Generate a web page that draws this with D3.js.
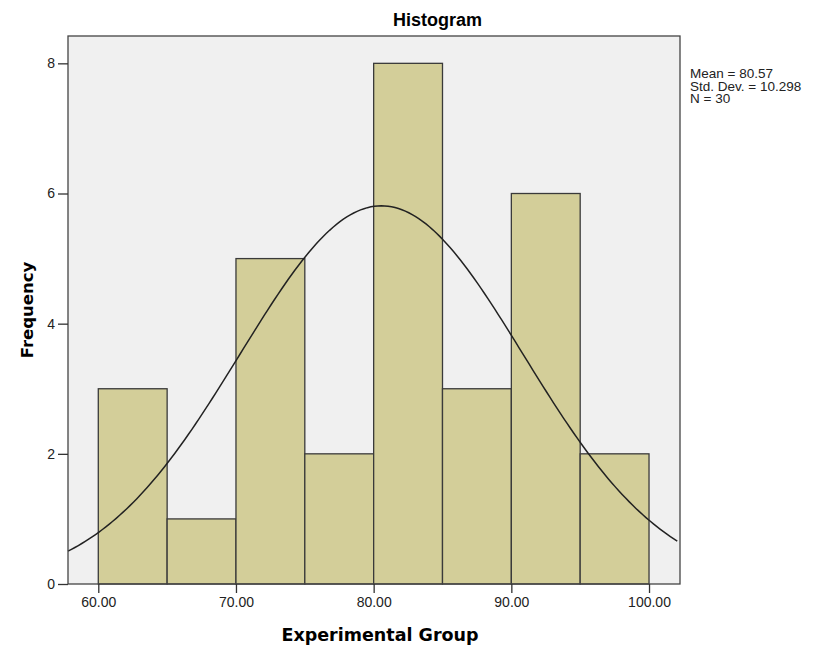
<!DOCTYPE html>
<html>
<head>
<meta charset="utf-8">
<script src="https://cdn.jsdelivr.net/npm/d3@7"></script>
<style>
  body { margin: 0; background: #fff; }
  svg { display: block; }
</style>
</head>
<body>
<svg width="825" height="649"></svg>
<script>
// histogram bins (lower edges) and counts
const binStarts = [60, 65, 70, 75, 80, 85, 90, 95];
const binWidth = 5;
const counts = [3, 1, 5, 2, 8, 3, 6, 2];
const xTicks = [60, 70, 80, 90, 100];
const yTicks = [0, 2, 4, 6, 8];
const mean = 80.57;
const stdDev = 10.298;
const n = 30;

const plotLeft = 68, plotRight = 680, plotTop = 36, plotBottom = 584;

const svg = d3.select('svg');

const x = d3.scaleLinear().domain([57.8, 102.25]).range([plotLeft, plotRight]);
const y = d3.scaleLinear().domain([0, 8.42]).range([plotBottom, plotTop]);

svg.append('rect')
  .attr('x', plotLeft).attr('y', plotTop)
  .attr('width', plotRight - plotLeft).attr('height', plotBottom - plotTop)
  .style('fill', '#f0f0f0');

svg.append('g')
  .selectAll('rect')
  .data(binStarts)
  .enter()
  .append('rect')
    .attr('x', d => x(d))
    .attr('y', (d, i) => y(counts[i]))
    .attr('width', d => x(d + binWidth) - x(d))
    .attr('height', (d, i) => y(0) - y(counts[i]))
    .style('fill', '#d3ce99')
    .style('stroke', '#3a3a3a')
    .style('stroke-width', 1.3);

// normal curve from the shown mean / std. dev.
const dens = v => n * binWidth * Math.exp(-0.5 * ((v - mean) / stdDev) ** 2) / (stdDev * Math.sqrt(2 * Math.PI));
const curveX = d3.range(x.domain()[0], x.domain()[1] + 0.001, 0.25);
svg.append('path')
  .datum(curveX)
  .attr('d', d3.line().x(d => x(d)).y(d => y(dens(d))))
  .style('fill', 'none')
  .style('stroke', '#222')
  .style('stroke-width', 1.5);

// frame
svg.append('rect')
  .attr('x', plotLeft).attr('y', plotTop)
  .attr('width', plotRight - plotLeft).attr('height', plotBottom - plotTop)
  .style('fill', 'none')
  .style('stroke', '#444')
  .style('stroke-width', 1.3);

const yAxis = d3.axisLeft(y).tickValues(yTicks).tickSize(10).tickSizeOuter(0).tickPadding(3);
const gy = svg.append('g').attr('transform', `translate(${plotLeft},0)`).call(yAxis);
const xAxis = d3.axisBottom(x).tickValues(xTicks).tickSize(9).tickSizeOuter(0).tickPadding(4)
  .tickFormat(d3.format('.2f'));
const gx = svg.append('g').attr('transform', `translate(0,${plotBottom})`).call(xAxis);

[gx, gy].forEach(g => {
  g.select('.domain').remove();
  g.selectAll('line').style('stroke', '#333').style('stroke-width', 1.3);
  g.selectAll('text')
    .style('font-family', 'Liberation Sans, Arial, sans-serif')
    .style('font-size', '14px')
    .style('fill', '#222');
});

svg.append('text')
  .attr('x', 393).attr('y', 26)
  .style('font-family', 'Liberation Sans, Arial, sans-serif')
  .style('font-weight', 'bold')
  .style('font-size', '18px')
  .text('Histogram');

svg.append('text')
  .attr('transform', 'translate(33,310) rotate(-90)')
  .attr('text-anchor', 'middle')
  .style('font-family', 'DejaVu Sans, sans-serif')
  .style('font-weight', 'bold')
  .style('font-size', '16.5px')
  .text('Frequency');

svg.append('text')
  .attr('x', 380).attr('y', 641)
  .attr('text-anchor', 'middle')
  .style('font-family', 'DejaVu Sans, sans-serif')
  .style('font-weight', 'bold')
  .style('font-size', '17.5px')
  .text('Experimental Group');

const stats = [
  'Mean = ' + mean.toFixed(2),
  'Std. Dev. = ' + stdDev.toFixed(3),
  'N = ' + n
];
svg.append('g')
  .selectAll('text')
  .data(stats)
  .enter()
  .append('text')
    .attr('x', 690)
    .attr('y', (d, i) => 78 + i * 12.5)
    .style('font-family', 'Liberation Sans, Arial, sans-serif')
    .style('font-size', '13.5px')
    .style('fill', '#222')
    .text(d => d);
</script>
</body>
</html>
